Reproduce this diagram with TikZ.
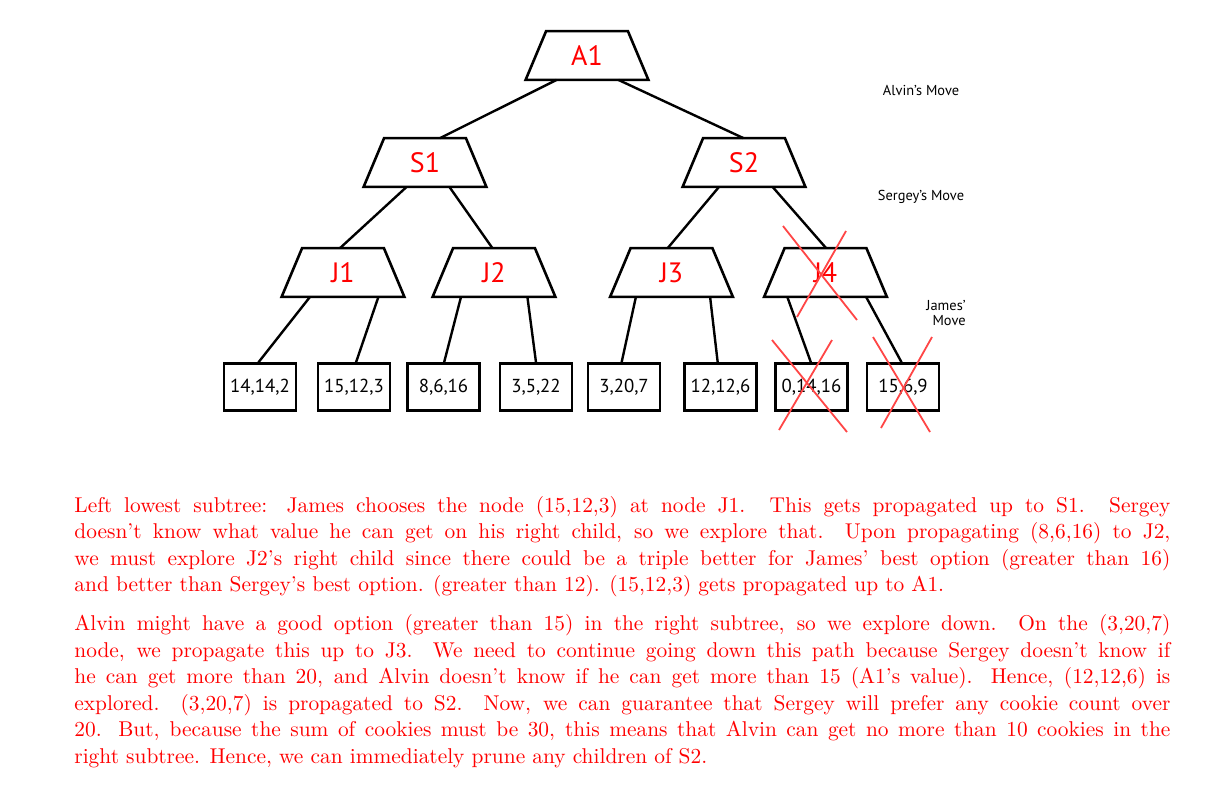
\documentclass[tikz,border=0pt]{standalone}
\usepackage{fontspec}
\newfontfamily\lblfont{PT Sans}
\usetikzlibrary{calc}
\definecolor{crossred}{RGB}{255,70,70}
\begin{document}
\begin{tikzpicture}[x=0.5pt,y=-0.5pt,
  trap/.style={minimum width=61pt, minimum height=24pt, inner sep=0pt,
    font=\lblfont\fontsize{14}{14}\selectfont, text=red},
  trapline/.style={line width=1.3pt, line join=miter},
  leaf/.style={draw, line width=1.3pt, minimum width=36pt, minimum height=23.3pt,
    inner sep=0pt, font=\lblfont\fontsize{9.4}{10}\selectfont},
  edge/.style={line width=1.2pt},
  cross/.style={crossred, line width=0.9pt},
  side/.style={font=\lblfont\fontsize{7.2}{7.5}\selectfont, inner sep=0pt},
  para/.style={anchor=north west, inner sep=0pt, text width=548pt, align=justify,
    text=red, font=\fontsize{10.7}{13.3}\selectfont}]
\useasboundingbox (0,0) rectangle (1226,799);

% trapezoid nodes
\node[trap] (A1) at (587,55.5) {A1};
\node[trap] (S1) at (425,162.5) {S1};
\node[trap] (S2) at (744,162.5) {S2};
\node[trap] (J1) at (343,272.5) {J1};
\node[trap] (J2) at (494,272.5) {J2};
\node[trap] (J3) at (671.5,272.5) {J3};
\node[trap] (J4) at (825.5,272.5) {J4};
\foreach \n in {A1,S1,S2,J1,J2,J3,J4}
  \draw[trapline] ($(\n.north west)+(20.5,0)$) -- ($(\n.north east)+(-20.5,0)$)
     -- (\n.south east) -- (\n.south west) -- cycle;

% leaves
\node[leaf] (L1) at (260,387) {14,14,2};
\node[leaf] (L2) at (354,387) {15,12,3};
\node[leaf] (L3) at (443.5,387) {8,6,16};
\node[leaf] (L4) at (536,387) {3,5,22};
\node[leaf] (L5) at (624,387) {3,20,7};
\node[leaf] (L6) at (720.5,387) {12,12,6};
\node[leaf] (L7) at (811.5,387) {0,14,16};
\node[leaf] (L8) at (903,387) {15,6,9};

% edges
\draw[edge] ([xshift=-15.2pt]A1.south) -- ([xshift=7.5pt]S1.north);
\draw[edge] ([xshift=15.7pt]A1.south) -- ([xshift=-0.3pt]S2.north);
\draw[edge] ([xshift=-9.2pt]S1.south) -- ([xshift=-1.5pt]J1.north);
\draw[edge] ([xshift=12.2pt]S1.south) -- ([xshift=-0.8pt]J2.north);
\draw[edge] ([xshift=-12.5pt]S2.south) -- ([xshift=-1.9pt]J3.north);
\draw[edge] ([xshift=14.3pt]S2.south) -- ([xshift=0.3pt]J4.north);
\draw[edge] ([xshift=-16.5pt]J1.south) -- ([xshift=-0.8pt]L1.north);
\draw[edge] ([xshift=17.7pt]J1.south) -- ([xshift=1pt]L2.north);
\draw[edge] ([xshift=-16.5pt]J2.south) -- ([xshift=0.3pt]L3.north);
\draw[edge] ([xshift=16.7pt]J2.south) -- (L4.north);
\draw[edge] ([xshift=-17.8pt]J3.south) -- ([xshift=-1.2pt]L5.north);
\draw[edge] ([xshift=19.3pt]J3.south) -- ([xshift=-1.4pt]L6.north);
\draw[edge] ([xshift=-19.1pt]J4.south) -- ([xshift=-0.3pt]L7.north);
\draw[edge] ([xshift=20.3pt]J4.south) -- ([xshift=-0.7pt]L8.north);

% side labels
\node[side] (mA) at (921,90) {Alvin’s Move};
\node[side] (mS) at (921,197) {Sergey’s Move};
\node[side, align=right, anchor=east] (mJ) at (966,312.5) {James’\\Move};

% crosses
\draw[cross] (783,226) -- (857,320);
\draw[cross] (846,231) -- (797,317);
\draw[cross] (772,340) -- (847,432);
\draw[cross] (832,340) -- (779,430);
\draw[cross] (873,337) -- (930,432);
\draw[cross] (932,337) -- (881,428);

% text
\node[para] (p1) at (74,493.1) {\strut Left lowest subtree: James chooses the node (15,12,3) at node J1.  This gets propagated up to S1.  Sergey\linebreak
doesn’t know what value he can get on his right child, so we explore that.  Upon propagating (8,6,16) to J2,\linebreak
we must explore J2’s right child since there could be a triple better for James’ best option (greater than 16)\linebreak
and better than Sergey’s best option. (greater than 12). (15,12,3) gets propagated up to A1.};
\node[para] (p2) at (74,611.4) {\strut Alvin might have a good option (greater than 15) in the right subtree, so we explore down.  On the (3,20,7)\linebreak
node, we propagate this up to J3.  We need to continue going down this path because Sergey doesn’t know if\linebreak
he can get more than 20, and Alvin doesn’t know if he can get more than 15 (A1’s value).  Hence, (12,12,6) is\linebreak
explored.  (3,20,7) is propagated to S2.  Now, we can guarantee that Sergey will prefer any cookie count over\linebreak
20.  But, because the sum of cookies must be 30, this means that Alvin can get no more than 10 cookies in the\linebreak
right subtree.  Hence, we can immediately prune any children of S2.};
\end{tikzpicture}
\end{document}
